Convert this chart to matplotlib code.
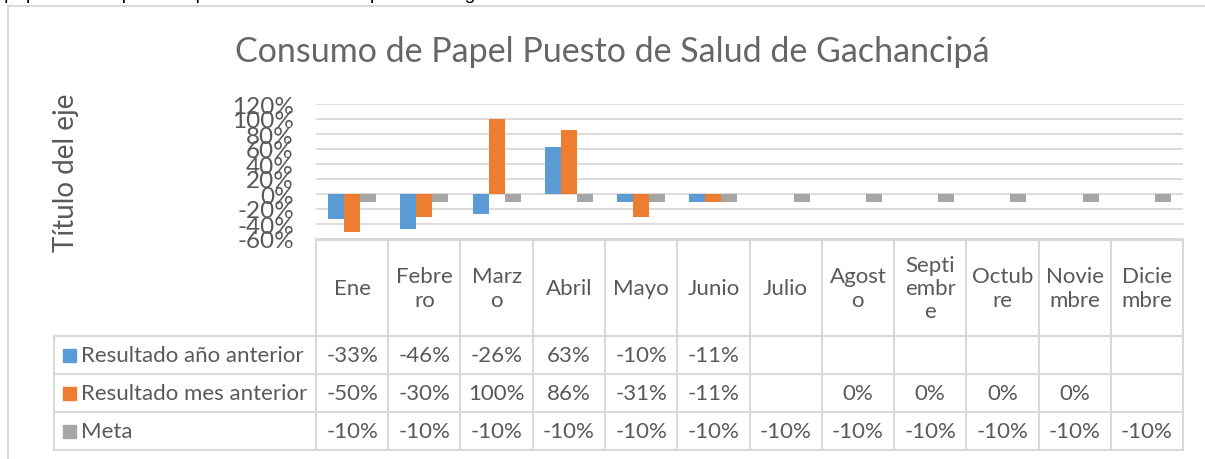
import numpy as np
import matplotlib
matplotlib.use("Agg")
import matplotlib.pyplot as plt
from matplotlib.patches import Rectangle
from matplotlib.lines import Line2D

# ---------------- data ----------------
months = ["Ene", "Febre\nro", "Marz\no", "Abril", "Mayo", "Junio", "Julio",
          "Agost\no", "Septi\nembr\ne", "Octub\nre", "Novie\nmbre", "Dicie\nmbre"]
series_names = ["Resultado año anterior", "Resultado mes anterior", "Meta"]
anio_anterior = [-33, -46, -26, 63, -10, -11, None, None, None, None, None, None]
mes_anterior = [-50, -30, 100, 86, -31, -11, None, 0, 0, 0, 0, None]
meta = [-10, -10, -10, -10, -10, -10, -10, -10, -10, -10, -10, -10]
yticks = [-60, -40, -20, 0, 20, 40, 60, 80, 100, 120]
title = "Consumo de Papel Puesto de Salud de Gachancipá"
ylabel = "Título del eje"

colors = ["#5B9BD5", "#ED7D31", "#A5A5A5"]
text_col = "#595959"
grid_col = "#D9D9D9"
FONT = "Lato"
FS = 16

W, H = 1205, 460
fig = plt.figure(figsize=(W / 100, H / 100), dpi=100)


def fx(x):
    return x / W


def fy(y):
    return 1 - y / H


# clipped document text at the very top
fig.text(fx(4), fy(-1), "papel con respecto al primer semestre respecto al segundo semestre del año anterior",
         fontsize=14, family="Liberation Sans", color="black", va="baseline", ha="left")

# chart border
fig.add_artist(Rectangle((fx(8), fy(470)), fx(1230 - 8), fy(7) - fy(470),
                         transform=fig.transFigure, fill=False, edgecolor=grid_col, lw=1.5))

# plot axes
L, R, T, B = 316, 1183, 105, 240
ax = fig.add_axes([fx(L), fy(B), fx(R - L), fy(T) - fy(B)])
n = len(months)
x = np.arange(n)
bw = 16 / ((R - L) / n)
data = [anio_anterior, mes_anterior, meta]
for i, (vals, c) in enumerate(zip(data, colors)):
    h = np.array([np.nan if v is None else v / 100 for v in vals], dtype=float)
    ax.bar(x + (i - 1) * bw, h, width=bw, color=c, zorder=3)

ax.set_xlim(-0.5, n - 0.5)
ax.set_ylim(-0.6, 1.2)
ax.set_yticks([t / 100 for t in yticks])
ax.set_yticklabels([f"{t}%" for t in yticks], fontsize=17.5, color=text_col, family=FONT)
ax.tick_params(axis="y", length=0, pad=16)
ax.set_xticks([])
for t in yticks:
    ax.axhline(t / 100, color=grid_col, lw=1.3, zorder=1)
for s in ax.spines.values():
    s.set_visible(False)
ax.patch.set_alpha(0)

# y label
fig.text(fx(66), fy(173), ylabel, rotation=90, ha="center", va="center",
         fontsize=20, color=text_col, family=FONT)

# title
fig.text(fx(612), fy(52), title, ha="center", va="center",
         fontsize=24.5, color="#666666", family=FONT)

# ---------------- data table ----------------
cw = (R - L) / n
row_y = [241, 337, 375, 413, 451]
lkw = dict(transform=fig.transFigure, color=grid_col, lw=1.5)
# horizontal lines
fig.add_artist(Line2D([fx(L), fx(R)], [fy(row_y[0])] * 2, **lkw))
for yy in row_y[1:]:
    fig.add_artist(Line2D([fx(54), fx(R)], [fy(yy)] * 2, **lkw))
# vertical lines
for k in range(n + 1):
    xx = L + k * cw
    fig.add_artist(Line2D([fx(xx)] * 2, [fy(row_y[0]), fy(row_y[-1])], **lkw))
fig.add_artist(Line2D([fx(54)] * 2, [fy(row_y[1]), fy(row_y[-1])], **lkw))

tkw = dict(fontsize=FS, color=text_col, family=FONT, ha="center", va="center")
for k, m in enumerate(months):
    fig.text(fx(L + (k + 0.5) * cw), fy((row_y[0] + row_y[1]) / 2), m,
             linespacing=1.2, **tkw)

for r, (name, vals, c) in enumerate(zip(series_names, data, colors)):
    yc = (row_y[r + 1] + row_y[r + 2]) / 2
    fig.add_artist(Rectangle((fx(63), fy(yc + 6.5)), fx(13), fy(yc - 6.5) - fy(yc + 6.5),
                             transform=fig.transFigure, color=c))
    fig.text(fx(81), fy(yc), name, fontsize=FS, color=text_col, family=FONT,
             ha="left", va="center")
    for k, v in enumerate(vals):
        if v is not None:
            fig.text(fx(L + (k + 0.5) * cw), fy(yc), f"{v}%", **tkw)

fig.savefig("out.png", dpi=100)
